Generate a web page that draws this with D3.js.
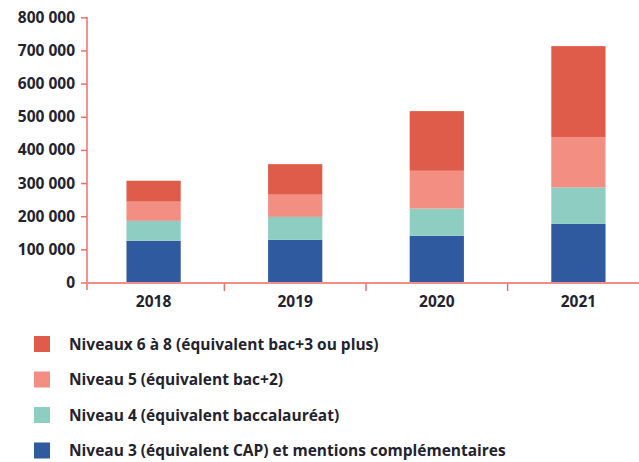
<!DOCTYPE html>
<html>
<head>
<meta charset="utf-8">
<script src="https://cdn.jsdelivr.net/npm/d3@7"></script>
<style>
  body { margin: 0; background: #fff; }
  text { font-family: "Open Sans", sans-serif; font-weight: 700; fill: #23232f; }
</style>
</head>
<body>
<svg id="chart" width="639" height="462"></svg>
<script>
var years = ["2018", "2019", "2020", "2021"];
var levels = ["n3", "n4", "n5", "n68"];
var niveau3 = [126000, 129000, 141000, 177000];
var niveau4 = [60000, 69000, 82000, 110000];
var niveau5 = [58000, 67000, 114000, 152000];
var niveaux68 = [63000, 92000, 180000, 274000];
var yTicks = [0, 100000, 200000, 300000, 400000, 500000, 600000, 700000, 800000];
var legendLabels = [
  "Niveaux 6 à 8 (équivalent bac+3 ou plus)",
  "Niveau 5 (équivalent bac+2)",
  "Niveau 4 (équivalent baccalauréat)",
  "Niveau 3 (équivalent CAP) et mentions complémentaires"
];
var legendKeys = ["n68", "n5", "n4", "n3"];

var colors = { n3: "#2f5a9f", n4: "#8ecdc2", n5: "#f28e82", n68: "#e05c4a" };

var rows = years.map(function(y, i) {
  return { year: y, n3: niveau3[i], n4: niveau4[i], n5: niveau5[i], n68: niveaux68[i] };
});

var svg = d3.select("#chart");

var x = d3.scaleBand().domain(years).range([84, 648]).paddingInner(0.617).paddingOuter(0.3);
var y = d3.scaleLinear().domain([0, 800000]).range([282.5, 17.3]);

var fmt = function(d) { return d3.format(",")(d).replace(/,/g, " "); };

// y axis
var yAxis = svg.append("g")
  .attr("transform", "translate(87,0)")
  .call(d3.axisLeft(y).tickValues(yTicks).tickSize(6).tickPadding(6).tickFormat(fmt));
yAxis.select(".domain").remove();
yAxis.selectAll(".tick line").attr("stroke", "#ec6f68").attr("stroke-width", 1.5);
yAxis.selectAll(".tick text").style("font-size", "15.5px").style("font-family", "'Open Sans', sans-serif").attr("fill", "#23232f");
svg.append("line")
  .attr("x1", 87).attr("x2", 87).attr("y1", 17).attr("y2", 290)
  .attr("stroke", "#ec6f68").attr("stroke-width", 1.5);

// stacked bars
var stack = d3.stack().keys(levels)(rows);
svg.append("g").selectAll("g")
  .data(stack)
  .enter()
  .append("g")
  .attr("fill", function(d) { return colors[d.key]; })
  .selectAll("rect")
  .data(function(d) { return d; })
  .enter()
  .append("rect")
  .attr("x", function(d) { return x(d.data.year); })
  .attr("width", x.bandwidth())
  .attr("y", function(d) { return y(d[1]); })
  .attr("height", function(d) { return y(d[0]) - y(d[1]); });

// x axis
var step = x.step();
svg.append("line")
  .attr("x1", 87).attr("x2", 639).attr("y1", 283).attr("y2", 283)
  .attr("stroke", "#f28e8a").attr("stroke-width", 2);
var xg = svg.append("g").attr("transform", "translate(0,283)");
xg.selectAll("line.sep")
  .data(years.slice(1))
  .enter()
  .append("line")
  .attr("x1", function(d) { return x(d) + x.bandwidth() / 2 - step / 2; })
  .attr("x2", function(d) { return x(d) + x.bandwidth() / 2 - step / 2; })
  .attr("y1", 0).attr("y2", 8)
  .attr("stroke", "#ec6f68").attr("stroke-width", 1.5);
xg.selectAll("text")
  .data(years)
  .enter()
  .append("text")
  .attr("x", function(d) { return x(d) + x.bandwidth() / 2; })
  .attr("y", 24)
  .attr("text-anchor", "middle")
  .style("font-size", "15.5px")
  .text(function(d) { return d; });

// legend
var lg = svg.append("g").selectAll("g")
  .data(legendKeys)
  .enter()
  .append("g")
  .attr("transform", function(d, i) { return "translate(34," + (336 + i * 35.5) + ")"; });
lg.append("rect")
  .attr("width", 16).attr("height", 16)
  .attr("fill", function(d) { return colors[d]; });
lg.append("text")
  .attr("x", 35).attr("y", 13.5)
  .style("font-size", "15.5px")
  .text(function(d, i) { return legendLabels[i]; });
</script>
</body>
</html>
